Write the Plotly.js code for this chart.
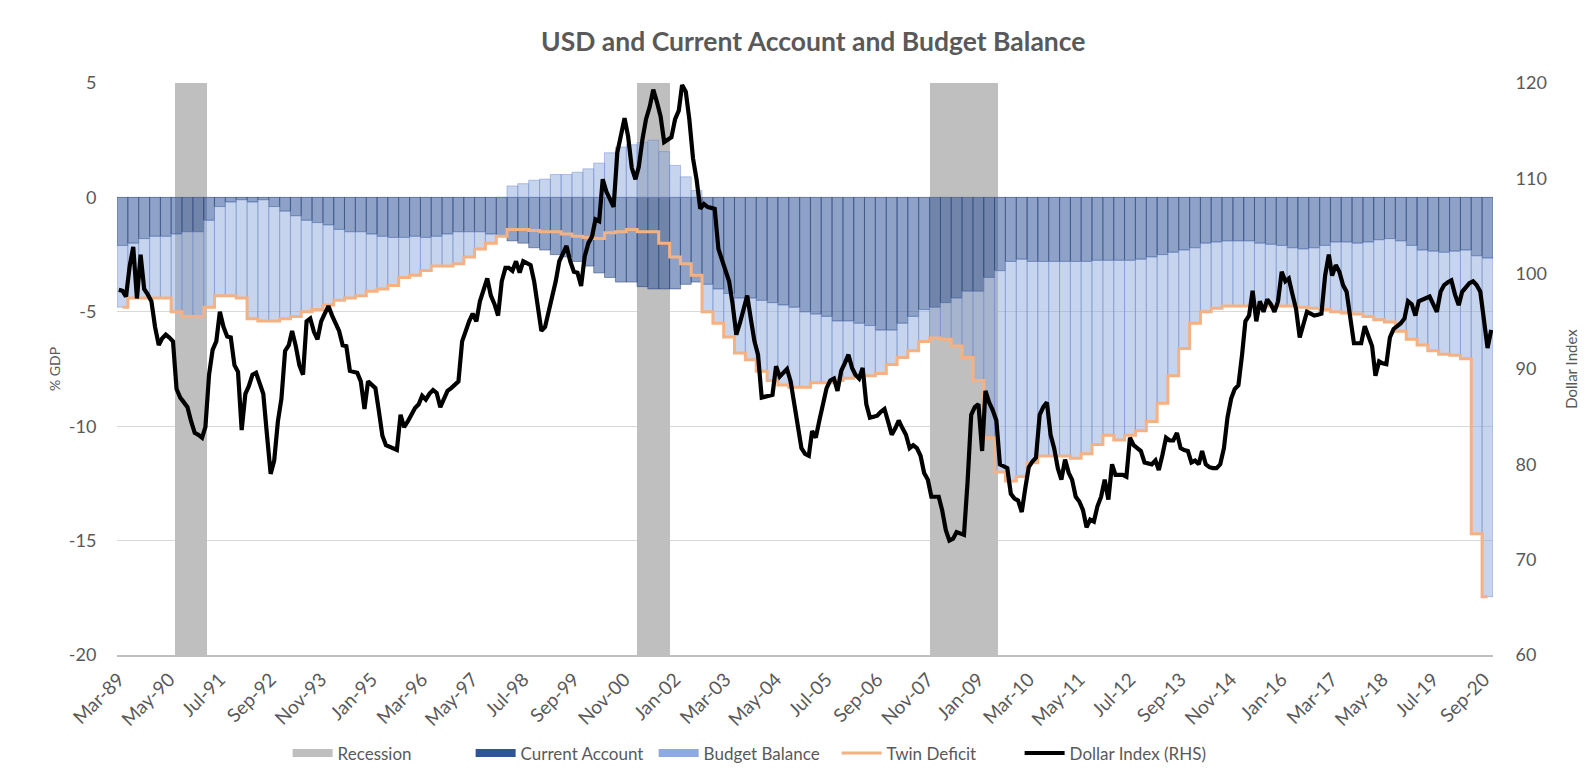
<!DOCTYPE html>
<html>
<head>
<meta charset="utf-8">
<script src="https://cdn.plot.ly/plotly-3.0.1.min.js"></script>
<style>html,body{margin:0;padding:0;background:#fff;}#chart{width:1593px;height:783px;}</style>
</head>
<body>
<div id="chart"></div>
<script>
// ---------------- DATA ----------------
// Start month of all series
var startYear = 1989, startMonth = 3; // Mar-89

// x-axis tick labels (every 14 months from Mar-89)
var tickLabels = ['Mar-89','May-90','Jul-91','Sep-92','Nov-93','Jan-95','Mar-96','May-97','Jul-98','Sep-99',
  'Nov-00','Jan-02','Mar-03','May-04','Jul-05','Sep-06','Nov-07','Jan-09','Mar-10','May-11','Jul-12',
  'Sep-13','Nov-14','Jan-16','Mar-17','May-18','Jul-19','Sep-20'];

// left axis ticks (% GDP) and right axis ticks (Dollar Index)
var leftTicks = [-20, -15, -10, -5, 0, 5];
var leftTickText = ['-20', '-15', '-10', '-5', '0', '5'];
var rightTicks = [60, 70, 80, 90, 100, 110, 120];

// Recession periods (NBER)
var recessionStart = ['1990-07','2001-03','2007-12'];
var recessionEnd   = ['1991-03','2001-11','2009-06'];

// Quarterly values, % GDP (quarter q covers months 3q..3q+2 from Mar-89)
var currentAccount = [
 -2.1,-2.0,-1.8,-1.7,-1.7,-1.6,-1.5,-1.5,-1.0,-0.4,-0.2,-0.1,-0.2,-0.1,-0.4,-0.6,-0.8,-1.0,-1.1,-1.2,
 -1.4,-1.5,-1.5,-1.6,-1.7,-1.75,-1.75,-1.7,-1.75,-1.7,-1.6,-1.5,-1.5,-1.5,-1.6,-1.7,-1.9,-2.0,-2.2,-2.3,
 -2.5,-2.6,-2.8,-3.0,-3.3,-3.5,-3.7,-3.7,-3.9,-4.0,-4.0,-4.0,-3.8,-3.7,-3.8,-4.0,-4.2,-4.4,-4.4,-4.5,
 -4.6,-4.7,-4.8,-5.0,-5.1,-5.2,-5.4,-5.4,-5.5,-5.6,-5.8,-5.8,-5.5,-5.2,-4.9,-4.8,-4.6,-4.4,-4.1,-4.1,
 -3.5,-3.2,-2.8,-2.7,-2.8,-2.8,-2.8,-2.8,-2.8,-2.8,-2.75,-2.75,-2.75,-2.75,-2.7,-2.6,-2.5,-2.4,-2.3,-2.2,
 -2.0,-1.95,-1.9,-1.9,-1.9,-2.0,-2.05,-2.1,-2.2,-2.25,-2.2,-2.1,-1.95,-1.95,-2.0,-1.95,-1.85,-1.8,-1.9,-2.1,
 -2.3,-2.35,-2.4,-2.35,-2.3,-2.55,-2.65];
var budgetBalance = [
 -2.7,-2.4,-2.6,-2.7,-2.7,-3.4,-3.7,-3.7,-3.8,-3.9,-4.1,-4.3,-5.1,-5.3,-5.0,-4.7,-4.4,-4.0,-3.8,-3.5,
 -3.1,-2.9,-2.8,-2.5,-2.3,-2.1,-1.75,-1.7,-1.45,-1.3,-1.4,-1.4,-1.1,-0.75,-0.4,0.0,0.5,0.6,0.75,0.8,
 1.0,1.0,1.1,1.25,1.5,1.95,2.2,2.3,2.4,2.5,2.0,1.4,0.9,0.3,-1.2,-1.5,-1.9,-2.4,-2.7,-3.1,
 -3.4,-3.5,-3.5,-3.3,-3.0,-2.9,-2.6,-2.5,-2.3,-2.2,-1.9,-1.5,-1.5,-1.5,-1.4,-1.35,-1.6,-2.1,-2.9,-3.9,
 -7.0,-8.8,-9.6,-9.5,-8.8,-8.5,-8.5,-8.5,-8.6,-8.4,-8.05,-7.65,-7.85,-7.65,-7.5,-7.2,-6.5,-5.4,-4.3,-3.3,
 -3.0,-2.9,-2.85,-2.85,-2.85,-2.75,-2.7,-2.65,-2.55,-2.55,-2.65,-2.8,-3.05,-3.1,-3.1,-3.25,-3.5,-3.65,-3.95,-4.1,
 -4.15,-4.35,-4.45,-4.55,-4.75,-12.15,-14.8];
var twinDeficit = [
 -4.8,-4.4,-4.4,-4.4,-4.4,-5.0,-5.2,-5.2,-4.8,-4.3,-4.3,-4.4,-5.3,-5.4,-5.4,-5.3,-5.2,-5.0,-4.9,-4.7,
 -4.5,-4.4,-4.3,-4.1,-4.0,-3.85,-3.5,-3.4,-3.2,-3.0,-3.0,-2.9,-2.6,-2.25,-2.0,-1.7,-1.4,-1.4,-1.45,-1.5,
 -1.5,-1.6,-1.7,-1.75,-1.8,-1.55,-1.5,-1.4,-1.5,-1.5,-2.0,-2.6,-2.9,-3.4,-5.0,-5.5,-6.1,-6.8,-7.1,-7.6,
 -8.0,-8.2,-8.3,-8.3,-8.1,-8.1,-8.0,-7.9,-7.8,-7.8,-7.7,-7.3,-7.0,-6.7,-6.3,-6.15,-6.2,-6.5,-7.0,-8.0,
 -10.5,-12.0,-12.4,-12.2,-11.6,-11.3,-11.3,-11.3,-11.4,-11.2,-10.8,-10.4,-10.6,-10.4,-10.2,-9.8,-9.0,-7.8,-6.6,-5.5,
 -5.0,-4.85,-4.75,-4.75,-4.75,-4.75,-4.75,-4.75,-4.75,-4.8,-4.85,-4.9,-5.0,-5.05,-5.1,-5.2,-5.35,-5.45,-5.85,-6.2,
 -6.45,-6.7,-6.85,-6.9,-7.05,-14.7,-17.45];

// Monthly Dollar Index (RHS), Mar-89 onwards
var dollarIndex = [
 98.3,98.2,97.6,100.8,102.8,97.4,102.0,98.4,97.8,97.1,94.4,92.5,
 93.2,93.6,93.3,92.9,87.9,87.0,86.5,86.0,84.5,83.3,83.1,82.8,
 83.9,89.4,92.0,92.9,96.0,94.4,93.4,93.3,90.4,89.7,83.6,87.4,
 88.2,89.4,89.6,88.4,87.4,83.1,79.0,80.4,84.5,86.9,91.9,92.5,
 94.0,92.4,90.4,89.4,95.0,95.3,93.9,93.1,95.0,95.8,96.6,95.6,
 94.8,94.0,92.5,92.4,89.8,89.7,89.6,88.7,85.8,88.7,88.4,88.0,
 85.7,83.0,82.0,81.8,81.7,81.5,85.2,83.9,84.5,85.2,85.9,86.3,
 87.2,86.8,87.4,87.8,87.5,86.0,86.9,87.7,88.0,88.3,88.7,92.9,
 94.0,95.0,95.8,95.0,97.1,98.3,99.5,97.7,96.8,95.6,99.2,100.6,
 100.6,100.3,101.3,100.1,101.3,101.1,100.9,99.2,96.3,94.0,94.4,96.0,
 97.3,99.2,101.3,102.2,102.9,101.3,100.2,100.1,98.7,101.8,103.2,103.9,
 105.7,105.5,109.9,108.6,107.7,107.0,112.7,114.6,116.3,114.4,111.1,109.9,
 111.2,114.1,116.2,117.5,119.3,118.0,116.5,113.8,114.1,114.3,116.2,117.1,
 119.8,119.1,116.2,112.1,109.9,106.8,107.3,107.0,106.9,106.8,102.6,101.3,
 100.2,99.2,96.8,93.6,94.8,96.3,97.7,95.3,92.9,91.5,87.0,87.1,
 87.2,87.3,90.3,89.2,89.6,90.0,88.7,86.5,84.3,81.7,81.1,80.9,
 83.5,82.8,84.6,86.5,88.0,88.8,89.0,87.7,89.8,90.6,91.5,90.1,
 89.4,89.0,90.1,86.3,84.9,85.0,85.1,85.5,85.8,84.5,83.1,83.8,
 84.6,83.8,83.1,81.7,82.0,81.7,80.9,79.1,78.4,76.6,76.6,76.6,
 75.2,73.1,72.0,72.2,72.9,72.8,72.6,78.1,85.2,86.0,86.3,81.4,
 87.7,86.5,85.7,84.6,80.0,79.8,79.6,76.9,76.4,76.2,75.0,77.6,
 79.7,80.3,80.7,85.2,86.0,86.5,83.1,81.7,79.6,78.4,80.5,79.1,
 78.4,76.6,76.1,75.2,73.4,74.2,74.0,75.6,76.6,78.4,76.3,80.0,
 78.9,78.9,78.9,78.7,82.8,82.0,81.7,81.4,80.2,80.1,80.0,80.4,
 79.4,81.0,82.8,82.5,82.5,83.3,81.7,81.5,81.4,80.2,80.4,80.0,
 81.4,80.0,79.7,79.6,79.6,80.0,81.7,84.9,86.9,87.9,88.3,91.5,
 95.0,95.6,98.2,95.0,97.1,96.0,97.3,96.8,96.0,97.1,100.2,99.2,
 99.5,97.8,96.3,93.3,94.8,96.0,95.8,95.6,95.7,95.8,99.8,102.0,
 99.8,100.9,100.2,98.8,98.1,95.0,92.7,92.7,92.7,94.5,93.4,92.4,
 89.3,90.8,90.6,90.5,93.3,94.2,94.5,94.8,95.3,97.1,96.8,95.6,
 97.1,97.3,97.4,97.6,96.8,96.0,98.1,98.8,99.1,99.3,97.8,96.7,
 98.1,98.5,99.0,99.2,98.8,98.1,95.3,92.2,94.1];

// ---------------- BUILD ----------------
function monthDate(t) {
  var idx = (startMonth - 1) + t;
  var y = startYear + Math.floor(idx / 12);
  var m = idx % 12 + 1;
  return y + '-' + (m < 10 ? '0' : '') + m + '-01';
}
var monthDates = dollarIndex.map(function (_, t) { return monthDate(t); });
var quarterDates = currentAccount.map(function (_, q) { return monthDate(3 * q + 1); });
var tickVals = tickLabels.map(function (_, k) { return monthDate(14 * k); });

var recX = [], recY = [];
monthDates.forEach(function (d) {
  var ym = d.slice(0, 7);
  for (var i = 0; i < recessionStart.length; i++) {
    if (ym >= recessionStart[i] && ym <= recessionEnd[i]) { recX.push(d); recY.push(1); break; }
  }
});

var DAY = 86400000;
var FONT = 'Lato, "Open Sans", "DejaVu Sans", sans-serif';
var GREY = '#595959';

var traces = [
  { type: 'bar', x: recX, y: recY, xaxis: 'x', yaxis: 'y', width: 31 * DAY,
    marker: { color: '#bfbfbf', line: { width: 0 } }, showlegend: false, hoverinfo: 'skip', name: 'Recession' },
  { type: 'bar', x: quarterDates, y: currentAccount, xaxis: 'x', yaxis: 'y2', width: 92 * DAY,
    marker: { color: 'rgba(47,85,151,0.55)', line: { color: 'rgba(31,56,110,0.6)', width: 0.8 } },
    showlegend: false, name: 'Current Account' },
  { type: 'bar', x: quarterDates, y: budgetBalance, xaxis: 'x', yaxis: 'y2', width: 92 * DAY,
    marker: { color: 'rgba(143,170,220,0.5)', line: { color: 'rgba(100,130,200,0.55)', width: 0.8 } },
    showlegend: false, name: 'Budget Balance' },
  { type: 'scatter', mode: 'lines', x: quarterDates, y: twinDeficit, xaxis: 'x', yaxis: 'y2',
    line: { color: '#f4b183', width: 3, shape: 'hvh' }, showlegend: false, name: 'Twin Deficit' },
  { type: 'scatter', mode: 'lines', x: monthDates, y: dollarIndex, xaxis: 'x', yaxis: 'y3',
    line: { color: '#000000', width: 4.2 }, showlegend: false, name: 'Dollar Index (RHS)' }
];
// legend entries (last one is an empty spacer so the final label is not clipped)
[['Recession', '#bfbfbf', 8], ['Current Account', '#2f5597', 8], ['Budget Balance', '#8faadc', 8],
 ['Twin Deficit', '#f4b183', 3], ['Dollar Index (RHS)', '#000000', 4],
 ['\u00a0', 'rgba(0,0,0,0)', 0]].forEach(function (e) {
  traces.push({ type: 'scatter', mode: 'lines', x: [null], y: [null], xaxis: 'x', yaxis: 'y',
    name: e[0], line: { color: e[1], width: e[2] }, hoverinfo: 'skip' });
});

var layout = {
  width: 1593, height: 783,
  margin: { l: 117, r: 100, t: 83, b: 124 },
  paper_bgcolor: '#ffffff', plot_bgcolor: '#ffffff',
  font: { family: FONT, color: GREY, size: 16 },
  title: { text: '<b>USD and Current Account and Budget Balance</b>', x: 0.5105, xanchor: 'center',
    xref: 'container', y: 0.947, yanchor: 'middle', yref: 'container',
    font: { size: 26.5, color: GREY, family: FONT } },
  barmode: 'relative', bargap: 0,
  showlegend: true,
  legend: { orientation: 'h', x: 0.124, xanchor: 'left', y: -0.172, yanchor: 'middle',
    font: { size: 17, color: GREY }, itemwidth: 40, traceorder: 'normal',
    entrywidth: 128, entrywidthmode: 'pixels' },
  xaxis: { type: 'date', range: ['1989-02-14', '2020-11-16'], tickmode: 'array',
    tickvals: tickVals, ticktext: tickLabels, tickangle: -45, tickfont: { size: 19, color: GREY },
    ticks: 'outside', ticklen: 4, tickcolor: 'rgba(0,0,0,0)', showgrid: false,
    showline: true, linecolor: '#bfbfbf', linewidth: 2, zeroline: false, fixedrange: true },
  yaxis: { range: [0, 1], visible: false, fixedrange: true },
  yaxis2: { overlaying: 'y', side: 'left', range: [-20, 5], tickmode: 'array',
    tickvals: leftTicks, ticktext: leftTickText,
    showgrid: true, gridcolor: '#d9d9d9', gridwidth: 1, zeroline: false, showline: false,
    ticks: 'outside', ticklen: 16, tickcolor: 'rgba(0,0,0,0)', tickfont: { size: 18, color: GREY },
    title: { text: '% GDP', font: { size: 14, color: GREY }, standoff: 4 }, fixedrange: true },
  yaxis3: { overlaying: 'y', side: 'right', range: [60, 120], tickmode: 'array', tickvals: rightTicks,
    showgrid: false, zeroline: false, showline: false,
    ticks: 'outside', ticklen: 18, tickcolor: 'rgba(0,0,0,0)', tickfont: { size: 18, color: GREY },
    title: { text: 'Dollar Index', font: { size: 15, color: GREY }, standoff: 20 }, fixedrange: true }
};

Plotly.newPlot('chart', traces, layout, { displayModeBar: false, staticPlot: true });
</script>
</body>
</html>
